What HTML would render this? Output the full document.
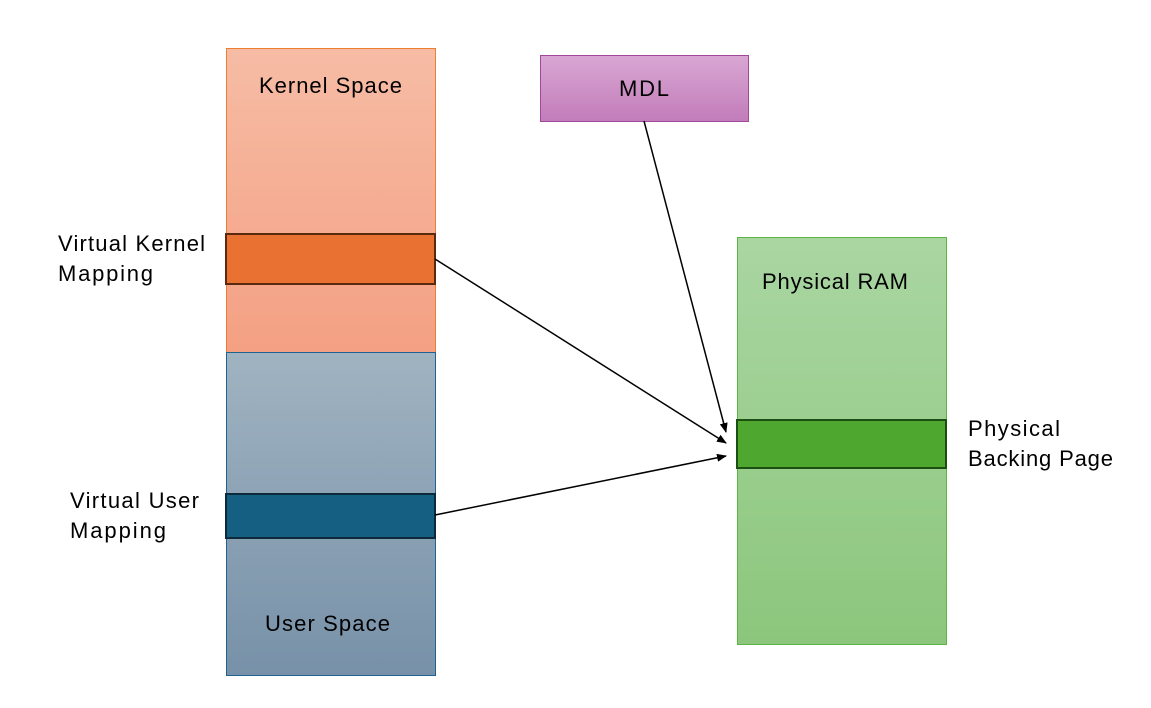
<!DOCTYPE html>
<html><head><style>body{margin:0;background:#fff}svg{display:block}text{font-family:"Liberation Sans",sans-serif;font-size:22px;fill:#000}</style></head><body>
<svg width="1151" height="708" viewBox="0 0 1151 708">
<defs>
<linearGradient id="k" x1="0" y1="0" x2="0" y2="1"><stop offset="0" stop-color="#f6bca5"/><stop offset="1" stop-color="#f4a083"/></linearGradient>
<linearGradient id="u" x1="0" y1="0" x2="0" y2="1"><stop offset="0" stop-color="#a0b3c1"/><stop offset="1" stop-color="#7791a8"/></linearGradient>
<linearGradient id="m" x1="0" y1="0" x2="0" y2="1"><stop offset="0" stop-color="#d9a7d3"/><stop offset="1" stop-color="#c27cba"/></linearGradient>
<linearGradient id="p" x1="0" y1="0" x2="0" y2="1"><stop offset="0" stop-color="#aad6a2"/><stop offset="1" stop-color="#8cc67c"/></linearGradient>
<marker id="a" markerWidth="10" markerHeight="8" refX="9" refY="4" orient="auto" markerUnits="userSpaceOnUse"><path d="M0,0 L10,4 L0,8 z" fill="#000"/></marker>
</defs>
<rect x="226.5" y="48.5" width="209" height="304" fill="url(#k)" stroke="#ed7d31"/>
<rect x="226.5" y="352.5" width="209" height="323" fill="url(#u)" stroke="#1f6391"/>
<rect x="226" y="234" width="209" height="50" fill="#e97132" stroke="#5a2a10" stroke-width="2"/>
<rect x="226" y="494" width="209" height="44" fill="#156082" stroke="#0c2a3a" stroke-width="2"/>
<rect x="540.5" y="55.5" width="208" height="66" fill="url(#m)" stroke="#a0489a"/>
<rect x="737.5" y="237.5" width="209" height="407" fill="url(#p)" stroke="#5cb443"/>
<rect x="737" y="420" width="209" height="48" fill="#4ea72e" stroke="#1d4f12" stroke-width="2"/>
<line x1="435" y1="259" x2="726" y2="443" stroke="#000" stroke-width="1.5" marker-end="url(#a)"/>
<line x1="435" y1="515" x2="726" y2="456" stroke="#000" stroke-width="1.5" marker-end="url(#a)"/>
<line x1="644" y1="121" x2="726" y2="432" stroke="#000" stroke-width="1.5" marker-end="url(#a)"/>
<text x="259" y="93" textLength="143">Kernel Space</text>
<text x="265" y="631" textLength="125">User Space</text>
<text x="619" y="96" textLength="50">MDL</text>
<text x="762" y="289" textLength="146">Physical RAM</text>
<text x="58" y="251" textLength="147">Virtual Kernel</text>
<text x="58" y="281" textLength="95">Mapping</text>
<text x="70" y="508" textLength="129">Virtual User</text>
<text x="70" y="538" textLength="96">Mapping</text>
<text x="968" y="436" textLength="92">Physical</text>
<text x="968" y="466" textLength="145">Backing Page</text>
</svg>
</body></html>
